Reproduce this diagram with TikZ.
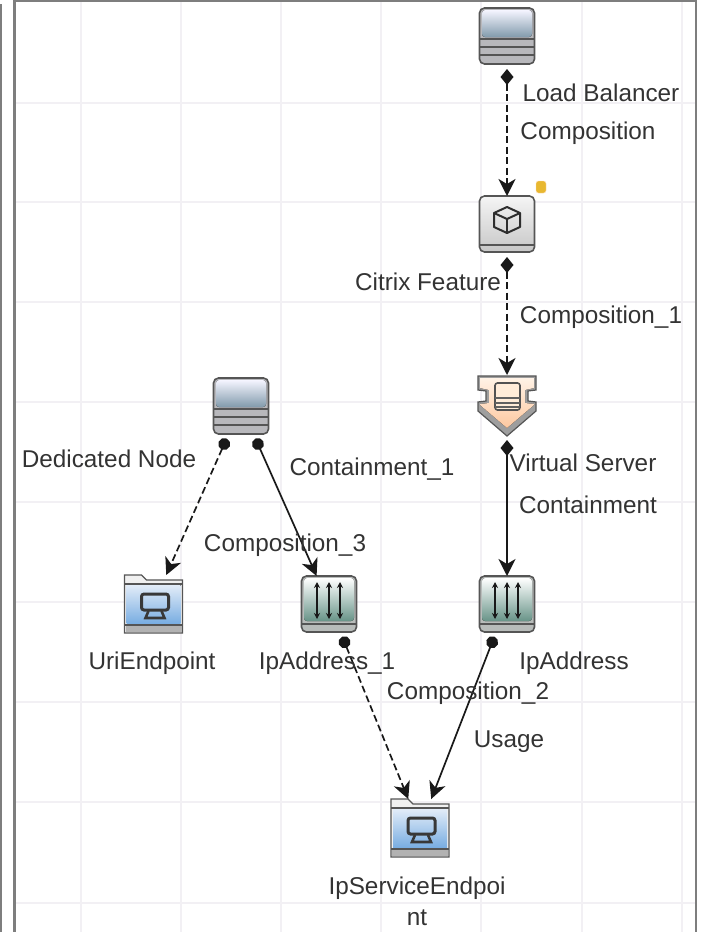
\documentclass[tikz,border=0pt]{standalone}
\usepackage{fontspec}
\setmainfont{Liberation Sans}
\usepackage{tikz}
\usetikzlibrary {arrows.meta,positioning}

\definecolor{gridcol}{HTML}{F2F0F4}
\definecolor{framecol}{HTML}{7E7E7E}
\definecolor{edgecol}{HTML}{555555}

\tikzset{
    iconbox/.style={rectangle,rounded corners=5pt,inner sep=0pt,outer sep=0pt,minimum width=55pt,minimum height=56pt,line width=1.6pt,draw=edgecol},
    stackbox/.style={iconbox,fill={rgb,255:red,184; green,184; blue,188}},
    cubebox/.style={iconbox,top color=white!96!black,bottom color=black!22},
    ipbox/.style={iconbox,fill={rgb,255:red,184; green,188; blue,186}},
    folderbox/.style={rectangle,inner sep=0pt,outer sep=0pt,minimum width=58pt,minimum height=58pt},
    vserverbox/.style={rectangle,inner sep=0pt,outer sep=0pt,minimum width=58pt,minimum height=60pt},
    caption/.style={font=\fontsize{24.3}{24.3}\selectfont,text=black!80,inner sep=0pt,text height=17pt,text depth=1pt},
    dashlink/.style={line width=1.7pt,black!90,dash pattern=on 7pt off 3.5pt,shorten <=5pt},
    solidlink/.style={line width=1.7pt,black!90,shorten <=5pt},
}

\newcommand{\stackdetail}[1]{
    \begin{scope}[shift={(#1.center)}]
        \fill[rounded corners=3pt,top color=white!96!blue,bottom color={rgb,255:red,130; green,155; blue,172}] (-25,-26) rectangle (25,1);
        \foreach \ypos in {3,11,19}
            \draw[line width=1.7pt,edgecol] (-27,\ypos) -- (27,\ypos);
    \end{scope}
}
\newcommand{\ipdetail}[1]{
    \begin{scope}[shift={(#1.center)}]
        \fill[rounded corners=3pt,top color=white,bottom color={rgb,255:red,104; green,148; blue,136}] (-25,-26) rectangle (25,17);
        \draw[line width=1.7pt,edgecol] (-27,20) -- (27,20);
        \foreach \xpos in {-12,0,11}
            \draw[line width=2pt,black!90,{Stealth[length=6pt,width=6pt]}-{Stealth[length=6pt,width=6pt]}] (\xpos,-22) -- (\xpos,15);
    \end{scope}
}
\newcommand{\folderdetail}[1]{
    \begin{scope}[shift={(#1.center)}]
        \filldraw[line width=1.4pt,draw=edgecol,fill=white!94!black] (-29,-24) -- (-29,-29) -- (-12,-29) -- (-7,-24) -- (29,-24) -- (29,29) -- (-29,29) -- cycle;
        \fill[top color={rgb,255:red,226; green,236; blue,248},bottom color={rgb,255:red,122; green,174; blue,226}] (-27,-19) rectangle (27,19);
        \draw[line width=1.4pt,edgecol] (-29,-20) -- (29,-20);
        \fill[black!30] (-28,21) rectangle (28,28);
        \draw[line width=1.4pt,edgecol] (-29,21) -- (29,21);
        \draw[line width=3pt,black!78,rounded corners=2.5pt] (-12,-10) rectangle (15,6);
        \draw[line width=2.6pt,black!78] (-5,7) -- (-8,14) -- (11,14) -- (8,7);
    \end{scope}
}
\newcommand{\vserverdetail}[1]{
    \begin{scope}[shift={(#1.center)}]
        \filldraw[line width=1.2pt,draw=edgecol,fill=black!38] (-29,-29) -- (29,-29) -- (29,-15) -- (21,-14) -- (21,-4) -- (29,-3) -- (29,6) -- (0,31) -- (-29,6) -- (-29,-3) -- (-21,-4) -- (-21,-14) -- (-29,-15) -- cycle;
        \fill[top color=white!90!orange,bottom color={rgb,255:red,253; green,200; blue,160}] (-27,-27) -- (27,-27) -- (27,-17) -- (18,-15) -- (18,-2) -- (27,-1) -- (27,0) -- (0,23) -- (-27,0) -- (-27,-1) -- (-18,-2) -- (-18,-15) -- (-27,-17) -- cycle;
        \filldraw[rounded corners=2.5pt,line width=1.6pt,draw=black!68,fill=white!85!orange] (-12,-22) rectangle (13,5);
        \foreach \ypos in {-7,-2,2}
            \draw[line width=1.4pt,black!62] (-12,\ypos) -- (13,\ypos);
    \end{scope}
}

\begin{document}
\begin{tikzpicture}[x=1pt,y=-1pt,node distance = 0pt and 0pt]

    \useasboundingbox (0,0) rectangle (702,932);

    % canvas
    \foreach \xpos in {81,181,281,381,481,582,682}
        \draw[line width=2pt,gridcol] (\xpos,2) -- (\xpos,932);
    \foreach \ypos in {103,202,302,402,502,602,702,802,903}
        \draw[line width=2pt,gridcol] (15,\ypos) -- (695,\ypos);
    \fill[framecol] (0,4) rectangle (2,932);
    \fill[framecol] (13,0) rectangle (15.5,932);
    \fill[framecol] (13,0) rectangle (697,2);
    \fill[framecol] (694.5,0) rectangle (697,932);

    \node (balancer) [stackbox] at (507,36) {};
    \node (citrix) [cubebox,below=132pt of balancer] {};
    \node (vserver) [vserverbox,below=123pt of citrix] {};
    \node (ipaddr) [ipbox,below=141pt of vserver] {};
    \node (ipaddr1) [ipbox,left=123pt of ipaddr] {};
    \node (uri) [folderbox,left=119pt of ipaddr1] {};
    \node (dedicated) [stackbox] at (241,406) {};
    \node (service) [folderbox] at (420,828) {};

    \stackdetail{balancer}
    \stackdetail{dedicated}
    \ipdetail{ipaddr}
    \ipdetail{ipaddr1}
    \folderdetail{uri}
    \folderdetail{service}
    \vserverdetail{vserver}

    % cube on the feature icon
    \draw[line width=1.7pt,edgecol] (citrix.west |- 0,245) -- (citrix.east |- 0,245);
    \begin{scope}[shift={(citrix.center)},line width=2pt,black!82,line join=round]
        \draw (0,-17) -- (13,-11) -- (13,3) -- (0,9) -- (-13,3) -- (-13,-11) -- cycle;
        \draw (-13,-11) -- (0,-5) -- (13,-11);
        \draw (0,-5) -- (0,9);
    \end{scope}

    \node (badge) [rectangle,rounded corners=2.5pt,minimum width=10pt,minimum height=12pt,inner sep=0pt,fill={rgb,255:red,232; green,184; blue,48},draw=white!70!orange] at (541,187) {};

    \draw[dashlink,{Diamond[length=16pt,width=13pt]}-{Stealth[length=17pt,width=17pt,inset=5pt]}] (balancer) -- (citrix);
    \draw[dashlink,{Diamond[length=16pt,width=13pt]}-{Stealth[length=17pt,width=17pt,inset=5pt]}] (citrix) -- (vserver);
    \draw[solidlink,{Diamond[length=16pt,width=13pt]}-{Stealth[length=17pt,width=17pt,inset=5pt]}] (vserver) -- (ipaddr);
    \draw[dashlink,{Circle[length=12pt]}-{Stealth[length=17pt,width=17pt,inset=5pt]}] (dedicated) -- (uri);
    \draw[solidlink,{Circle[length=12pt]}-{Stealth[length=17pt,width=17pt,inset=5pt]}] (dedicated) -- (ipaddr1);
    \draw[dashlink,{Circle[length=12pt]}-{Stealth[length=17pt,width=17pt,inset=5pt]}] (ipaddr1) -- (service);
    \draw[solidlink,{Circle[length=12pt]}-{Stealth[length=17pt,width=17pt,inset=5pt]}] (ipaddr) -- (service);

    \node (balancerlabel) [caption] at (601,93) {Load Balancer};
    \node (complabel) [caption] at (588,131) {Composition};
    \node (citrixlabel) [caption] at (428,282) {Citrix Feature};
    \node (comp1label) [caption] at (601,315) {Composition\_1};
    \node (vserverlabel) [caption] at (583,463) {Virtual Server};
    \node (contlabel) [caption] at (588,505) {Containment};
    \node (cont1label) [caption] at (372,467) {Containment\_1};
    \node (dedicatedlabel) [caption] at (109,459) {Dedicated Node};
    \node (comp3label) [caption] at (285,543) {Composition\_3};
    \node (urilabel) [caption] at (152,661) {UriEndpoint};
    \node (ipaddr1label) [caption] at (327,661) {IpAddress\_1};
    \node (ipaddrlabel) [caption] at (574,661) {IpAddress};
    \node (comp2label) [caption] at (468,691) {Composition\_2};
    \node (usagelabel) [caption] at (509,739) {Usage};
    \node (servicelabel) [caption] at (417,886) {IpServiceEndpoi};
    \node (servicelabel2) [caption] at (417,917) {nt};
\end{tikzpicture}
\end{document}
